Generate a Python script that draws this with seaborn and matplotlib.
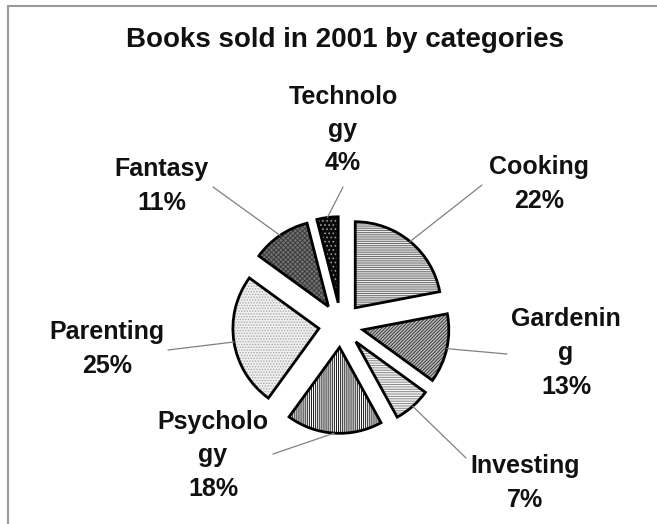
import matplotlib
matplotlib.use("Agg")
import matplotlib.pyplot as plt
from matplotlib.lines import Line2D
import numpy as np
import seaborn as sns

categories = ["Cooking", "Gardening", "Investing", "Psychology", "Parenting", "Fantasy", "Technology"]
shares = [22, 13, 7, 18, 25, 11, 4]
# category names as they wrap inside the callouts
label_lines = ["Cooking", "Gardenin\ng", "Investing", "Psycholo\ngy", "Parenting", "Fantasy", "Technolo\ngy"]
title = "Books sold in 2001 by categories"

face_colors = ["#ffffff", "#bdbdbd", "#f4f4f4", "#ffffff", "#f0f0f0", "#747474", "#0a0a0a"]
hatch_colors = ["#686868", "#3a3a3a", "#8a8a8a", "#151515", "#a8a8a8", "#3c3c3c", "#9a9a9a"]
hatches = ["-" * 9, "/" * 10, "-" * 7, "|" * 8, "." * 6, "x" * 7, "." * 4]

# callout centres and leader-line ends, in pixels from the top-left corner
label_pos = [(539, 184), (566, 353), (525, 483), (213, 455), (107, 349), (162, 186), (343, 130)]
leader_end = [(482, 185), (507, 354), (466, 458), (273, 454), (168, 350), (213, 187), (343, 187)]

sns.set_theme(style="white")
plt.rcParams["font.family"] = ["Liberation Sans", "DejaVu Sans"]
plt.rcParams["hatch.linewidth"] = 0.7

W, H, DPI = 657, 524, 100
fig = plt.figure(figsize=(W / DPI, H / DPI), dpi=DPI)
fig.patch.set_facecolor("white")
ax = fig.add_axes([0, 0, 1, 1])

CX, CY, R = 341, 325, 86  # pie centre and radius in pixels
EXPLODE = 0.26


def to_data(px, py):
    return (px - CX) / R, (CY - py) / R


explode = [EXPLODE] * len(shares)
wedges, _ = ax.pie(shares, explode=explode, startangle=90, counterclock=False,
                   colors=face_colors, wedgeprops=dict(linewidth=0))
for w, hc, h in zip(wedges, hatch_colors, hatches):
    w.set_edgecolor(hc)
    w.set_hatch(h)
# black outlines drawn over the hatched fills
ax.pie(shares, explode=explode, startangle=90, counterclock=False,
       wedgeprops=dict(fill=False, edgecolor="black", linewidth=2))

for w, lab, v, lp, le in zip(wedges, label_lines, shares, label_pos, leader_end):
    mid = np.deg2rad((w.theta1 + w.theta2) / 2)
    sx = w.center[0] + w.r * np.cos(mid)
    sy = w.center[1] + w.r * np.sin(mid)
    ex, ey = to_data(*le)
    ax.add_line(Line2D([sx, ex], [sy, ey], color="#808080", lw=0.9))
    tx, ty = to_data(*lp)
    ax.text(tx, ty, f"{lab}\n{v}%", ha="center", va="center", multialignment="center",
            fontsize=18, fontweight="bold", color="#111111", linespacing=1.5)

ax.set_xlim(-CX / R, (W - CX) / R)
ax.set_ylim(-(H - CY) / R, CY / R)
ax.set_aspect("auto")
ax.axis("off")

fig.text(345 / W, 1 - 40 / H, title, ha="center", va="center",
         fontsize=20, fontweight="bold", color="#111111")

# frame along the top and left edges
fig.add_artist(Line2D([8 / W, 8 / W], [0, 1 - 5.5 / H], transform=fig.transFigure,
                      color="#9a9a9a", lw=1.5))
fig.add_artist(Line2D([8 / W, 1], [1 - 5.5 / H, 1 - 5.5 / H], transform=fig.transFigure,
                      color="#9a9a9a", lw=1.5))

fig.savefig("out.png", dpi=DPI)
